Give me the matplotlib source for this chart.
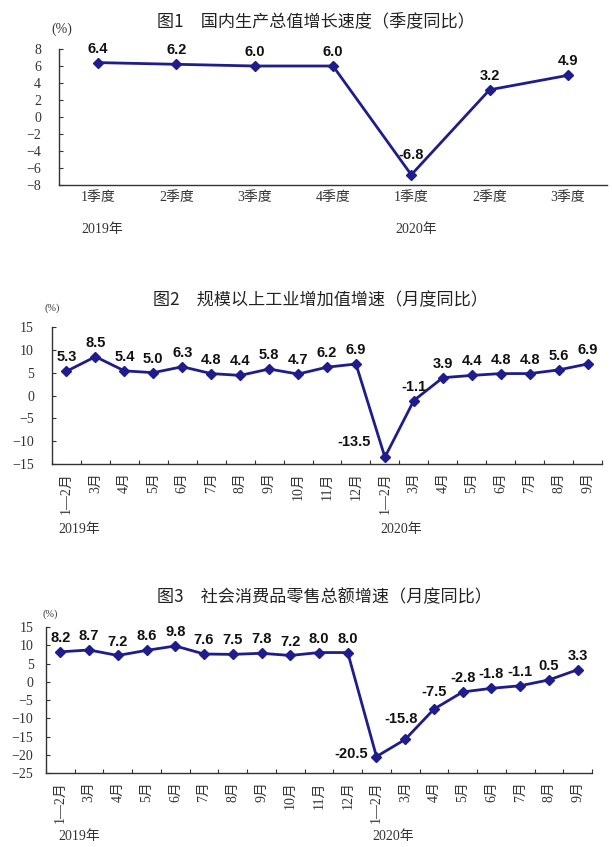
import matplotlib
matplotlib.use('Agg')
import matplotlib.pyplot as plt
import numpy as np

# chart 1: GDP growth, quarterly
gdp_quarters = ['1季度', '2季度', '3季度', '4季度', '1季度', '2季度', '3季度']
gdp_values = [6.4, 6.2, 6.0, 6.0, -6.8, 3.2, 4.9]

# chart 2 / 3: monthly
month_labels = ['1—2月', '3月', '4月', '5月', '6月', '7月', '8月', '9月', '10月', '11月', '12月',
                '1—2月', '3月', '4月', '5月', '6月', '7月', '8月', '9月']
industry_values = [5.3, 8.5, 5.4, 5.0, 6.3, 4.8, 4.4, 5.8, 4.7, 6.2, 6.9,
                   -13.5, -1.1, 3.9, 4.4, 4.8, 4.8, 5.6, 6.9]
retail_values = [8.2, 8.7, 7.2, 8.6, 9.8, 7.6, 7.5, 7.8, 7.2, 8.0, 8.0,
                 -20.5, -15.8, -7.5, -2.8, -1.8, -1.1, 0.5, 3.3]

titles = ['图1　国内生产总值增长速度（季度同比）',
          '图2　规模以上工业增加值增速（月度同比）',
          '图3　社会消费品零售总额增速（月度同比）']

W, H = 612, 847
LINE = '#1f1c8c'
TICK_FONT = ['Liberation Serif', 'Noto Sans CJK SC']
CJK = ['Noto Sans CJK SC', 'DejaVu Sans']
LABEL_FONT = ['Liberation Sans', 'DejaVu Sans']

fig = plt.figure(figsize=(W / 100, H / 100), dpi=100)
fig.patch.set_facecolor('white')


def px_axes(left, right, top, bottom):
    return fig.add_axes([left / W, 1 - bottom / H, (right - left) / W, (bottom - top) / H])


def ftext(x, y, s, **kw):
    fig.text(x / W, 1 - y / H, s, ha='center', va='center', **kw)


def draw(ax, values, labels, ylim, ystep, rotate, ypad, xpad, special=None):
    n = len(values)
    x = np.arange(n)
    ax.plot(x, values, color=LINE, lw=2.0, marker='D', markersize=5.5, zorder=3)
    ax.set_xlim(-0.5, n - 0.5)
    ax.set_ylim(*ylim)
    ax.set_yticks(np.arange(ylim[0], ylim[1] + 0.1, ystep))
    for s in ['top', 'right']:
        ax.spines[s].set_visible(False)
    for s in ['left', 'bottom']:
        ax.spines[s].set_color('#333333')
        ax.spines[s].set_linewidth(1.0)
    ax.tick_params(axis='y', direction='in', length=3, width=0.8, color='#333333',
                   pad=ypad, labelsize=10, labelcolor='#333333')
    ax.set_xticks(x)
    if rotate:
        ax.set_xticklabels(labels, rotation=90, va='top', ha='center')
        ax.set_xticks(np.arange(n + 1) - 0.5, minor=True)
        ax.tick_params(axis='x', which='minor', direction='in', length=3, width=0.8, color='#333333')
    else:
        ax.set_xticklabels(labels)
    ax.tick_params(axis='x', which='major', length=0, pad=xpad, labelsize=10, labelcolor='#333333')
    for lab in ax.get_xticklabels() + ax.get_yticklabels():
        lab.set_family(TICK_FONT)
    special = special or {}
    for i, v in enumerate(values):
        dx, dy, ha, va = special.get(i, (0, 5, 'center', 'bottom'))
        ax.annotate(f'{v:.1f}', (i, v), xytext=(dx, dy), textcoords='offset points',
                    ha=ha, va=va, fontsize=10.5, fontweight='bold', family=LABEL_FONT, color='#111111')


# chart 1
ax1 = px_axes(59, 607, 49, 185)
draw(ax1, gdp_values, gdp_quarters, (-8, 8), 2, False, ypad=13, xpad=4,
     special={4: (0, 9, 'center', 'bottom')})
ftext(316, 21, titles[0], fontsize=12.3, family=CJK, fontweight='medium', color='#222222')
ftext(62, 29, '(%)', fontsize=10, family=TICK_FONT, color='#333333')
ftext(102, 229, '2019年', fontsize=10, family=TICK_FONT, color='#333333')
ftext(416, 229, '2020年', fontsize=10, family=TICK_FONT, color='#333333')

# chart 2
ax2 = px_axes(52, 602, 327, 464)
draw(ax2, industry_values, month_labels, (-15, 15), 5, True, ypad=13, xpad=6,
     special={11: (-10, 6, 'right', 'bottom')})
ftext(320, 300, titles[1], fontsize=12.3, family=CJK, fontweight='medium', color='#222222')
ftext(52, 308, '(%)', fontsize=7.5, family=TICK_FONT, color='#333333')
ftext(79, 529, '2019年', fontsize=10, family=TICK_FONT, color='#333333')
ftext(401, 529, '2020年', fontsize=10, family=TICK_FONT, color='#333333')

# chart 3
ax3 = px_axes(46, 592, 627, 773)
draw(ax3, retail_values, month_labels, (-25, 15), 5, True, ypad=9, xpad=6,
     special={11: (-6, 2, 'right', 'center'), 12: (-3, 10, 'center', 'bottom'),
              13: (0, 7, 'center', 'bottom')})
ftext(324, 597, titles[2], fontsize=12.3, family=CJK, fontweight='medium', color='#222222')
ftext(50, 614, '(%)', fontsize=7.5, family=TICK_FONT, color='#333333')
ftext(79, 836, '2019年', fontsize=10, family=TICK_FONT, color='#333333')
ftext(393, 836, '2020年', fontsize=10, family=TICK_FONT, color='#333333')

fig.savefig('out.png', dpi=100)
